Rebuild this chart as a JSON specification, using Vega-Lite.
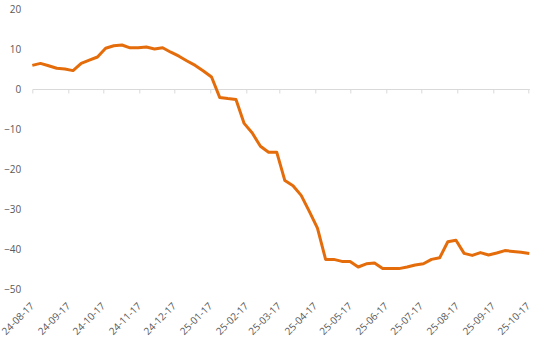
{
  "$schema": "https://vega.github.io/schema/vega-lite/v6.json",
  "width": 497,
  "height": 280,
  "autosize": "none",
  "padding": {"left": 32.3, "top": 9, "right": 7.7, "bottom": 53},
  "config": {"view": {"stroke": null}, "font": "Open Sans"},
  "data": {"values": [
    {"date": "2024-08-17", "value": 5.9},
    {"date": "2024-08-24", "value": 6.4},
    {"date": "2024-08-31", "value": 5.8},
    {"date": "2024-09-07", "value": 5.2},
    {"date": "2024-09-14", "value": 5.0},
    {"date": "2024-09-21", "value": 4.6},
    {"date": "2024-09-28", "value": 6.4},
    {"date": "2024-10-05", "value": 7.2},
    {"date": "2024-10-12", "value": 8.0},
    {"date": "2024-10-19", "value": 10.2},
    {"date": "2024-10-26", "value": 10.8},
    {"date": "2024-11-02", "value": 11.0},
    {"date": "2024-11-09", "value": 10.3},
    {"date": "2024-11-16", "value": 10.3},
    {"date": "2024-11-23", "value": 10.5},
    {"date": "2024-11-30", "value": 10.0},
    {"date": "2024-12-07", "value": 10.3},
    {"date": "2024-12-14", "value": 9.2},
    {"date": "2024-12-21", "value": 8.2},
    {"date": "2024-12-28", "value": 7.0},
    {"date": "2025-01-04", "value": 5.9},
    {"date": "2025-01-11", "value": 4.5},
    {"date": "2025-01-18", "value": 3.0},
    {"date": "2025-01-25", "value": -2.1},
    {"date": "2025-02-01", "value": -2.4},
    {"date": "2025-02-08", "value": -2.6},
    {"date": "2025-02-15", "value": -8.6},
    {"date": "2025-02-22", "value": -11.0},
    {"date": "2025-03-01", "value": -14.3},
    {"date": "2025-03-08", "value": -15.8},
    {"date": "2025-03-15", "value": -15.8},
    {"date": "2025-03-22", "value": -22.9},
    {"date": "2025-03-29", "value": -24.2},
    {"date": "2025-04-05", "value": -26.6},
    {"date": "2025-04-12", "value": -30.6},
    {"date": "2025-04-19", "value": -34.8},
    {"date": "2025-04-26", "value": -42.6},
    {"date": "2025-05-03", "value": -42.6},
    {"date": "2025-05-10", "value": -43.1},
    {"date": "2025-05-17", "value": -43.1},
    {"date": "2025-05-24", "value": -44.5},
    {"date": "2025-05-31", "value": -43.7},
    {"date": "2025-06-07", "value": -43.5},
    {"date": "2025-06-14", "value": -44.9},
    {"date": "2025-06-21", "value": -44.9},
    {"date": "2025-06-28", "value": -44.9},
    {"date": "2025-07-05", "value": -44.5},
    {"date": "2025-07-12", "value": -44.0},
    {"date": "2025-07-19", "value": -43.7},
    {"date": "2025-07-26", "value": -42.6},
    {"date": "2025-08-02", "value": -42.2},
    {"date": "2025-08-09", "value": -38.2},
    {"date": "2025-08-16", "value": -37.8},
    {"date": "2025-08-23", "value": -41.1},
    {"date": "2025-08-30", "value": -41.6},
    {"date": "2025-09-06", "value": -40.9},
    {"date": "2025-09-13", "value": -41.5},
    {"date": "2025-09-20", "value": -41.0},
    {"date": "2025-09-27", "value": -40.4},
    {"date": "2025-10-04", "value": -40.6},
    {"date": "2025-10-11", "value": -40.8},
    {"date": "2025-10-18", "value": -41.1}
  ]},
  "mark": {"type": "line", "color": "#E46C0A", "strokeWidth": 3, "strokeJoin": "round"},
  "encoding": {
    "x": {
      "field": "date",
      "type": "temporal",
      "scale": {
        "type": "utc",
        "domain": [
          {"year": 2024, "month": 8, "date": 17, "utc": true},
          {"year": 2025, "month": 10, "date": 18, "utc": true}
        ]
      },
      "axis": {
        "title": null,
        "offset": -200,
        "values": [
          {"year": 2024, "month": 8, "date": 17, "utc": true},
          {"year": 2024, "month": 9, "date": 17, "utc": true},
          {"year": 2024, "month": 10, "date": 17, "utc": true},
          {"year": 2024, "month": 11, "date": 17, "utc": true},
          {"year": 2024, "month": 12, "date": 17, "utc": true},
          {"year": 2025, "month": 1, "date": 17, "utc": true},
          {"year": 2025, "month": 2, "date": 17, "utc": true},
          {"year": 2025, "month": 3, "date": 17, "utc": true},
          {"year": 2025, "month": 4, "date": 17, "utc": true},
          {"year": 2025, "month": 5, "date": 17, "utc": true},
          {"year": 2025, "month": 6, "date": 17, "utc": true},
          {"year": 2025, "month": 7, "date": 17, "utc": true},
          {"year": 2025, "month": 8, "date": 17, "utc": true},
          {"year": 2025, "month": 9, "date": 17, "utc": true},
          {"year": 2025, "month": 10, "date": 17, "utc": true}
        ],
        "labelExpr": "utcFormat(datum.value, '%y-%m-%d')",
        "labelAngle": -45,
        "labelAlign": "right",
        "labelBaseline": "middle",
        "labelPadding": 211,
        "labelFlush": false,
        "labelOverlap": false,
        "tickSize": 4,
        "domainColor": "#D9D9D9",
        "tickColor": "#D9D9D9",
        "labelColor": "#595959",
        "labelFontSize": 10,
        "grid": false
      }
    },
    "y": {
      "field": "value",
      "type": "quantitative",
      "scale": {"domain": [-50, 20], "nice": false, "zero": false},
      "axis": {
        "title": null,
        "values": [-50, -40, -30, -20, -10, 0, 10, 20],
        "domain": false,
        "ticks": false,
        "grid": false,
        "labelPadding": 11.5,
        "labelColor": "#595959",
        "labelFontSize": 10
      }
    }
  }
}
